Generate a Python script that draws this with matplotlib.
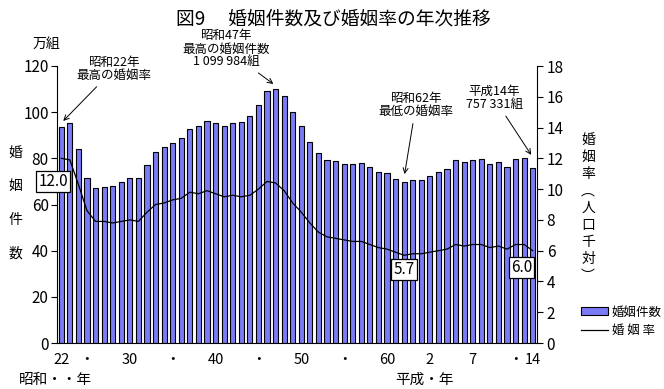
import numpy as np
import matplotlib
matplotlib.use('Agg')
import matplotlib.pyplot as plt
from matplotlib.lines import Line2D
from matplotlib.patches import Patch

plt.rcParams['font.family'] = ['Noto Sans CJK JP', 'DejaVu Sans']

# 昭和22年(1947) - 平成14年(2002)
years = list(range(1947, 2003))

# 婚姻件数 (万組)
marriages = [93.4, 95.4, 84.2, 71.5, 67.2, 67.7, 68.2, 69.8, 71.5, 71.6,
             77.3, 82.7, 84.7, 86.6, 89.0, 92.8, 93.8, 96.3, 95.5, 94.0,
             95.3, 95.6, 98.4, 102.9, 109.1, 110.0, 107.2, 100.0, 94.2, 87.2,
             82.1, 79.3, 78.9, 77.5, 77.7, 78.1, 76.3, 74.0, 73.6, 71.1,
             69.6, 70.8, 70.8, 72.2, 74.2, 75.4, 79.3, 78.3, 79.2, 79.5,
             77.6, 78.5, 76.2, 79.8, 80.0, 75.7]

# 婚姻率 (人口千対)
rates = [12.0, 11.9, 10.3, 8.6, 7.9, 7.9, 7.8, 7.9, 8.0, 7.9,
         8.5, 9.0, 9.1, 9.3, 9.4, 9.8, 9.7, 9.9, 9.7, 9.5,
         9.6, 9.5, 9.6, 10.0, 10.5, 10.4, 9.9, 9.1, 8.5, 7.8,
         7.2, 6.9, 6.8, 6.7, 6.6, 6.6, 6.4, 6.2, 6.1, 5.9,
         5.7, 5.8, 5.8, 5.9, 6.0, 6.1, 6.4, 6.3, 6.4, 6.4,
         6.2, 6.3, 6.1, 6.4, 6.4, 6.0]

tick_years = [1947, 1950, 1955, 1960, 1965, 1970, 1975, 1980, 1985, 1990, 1995, 2000, 2002]
tick_labels = ['22', '・', '30', '・', '40', '・', '50', '・', '60', '2', '7', '・', '14']

W, H = 664, 389
fig = plt.figure(figsize=(W / 100, H / 100), dpi=100)
ax = fig.add_axes([57 / W, (H - 343) / H, 480 / W, 277 / H])
ax2 = ax.twinx()

x = np.array(years) - 1947
bars = ax.bar(x, marriages, width=0.6, color='#7b7bf7', edgecolor='black', linewidth=0.8)
line, = ax2.plot(x, rates, color='black', linewidth=0.9)

ax.set_xlim(-0.5, 55.5)
ax.set_ylim(0, 120)
ax2.set_ylim(0, 18)
ax.set_yticks(range(0, 121, 20))
ax2.set_yticks(range(0, 19, 2))
ax.set_xticks([y - 1947 for y in tick_years])
ax.set_xticklabels(tick_labels)

for s in ['top', 'right']:
    ax.spines[s].set_visible(False)
for s in ['top', 'left', 'bottom']:
    ax2.spines[s].set_visible(False)
ax.tick_params(axis='y', direction='out', length=4, labelsize=11, pad=2)
ax2.tick_params(axis='y', direction='out', length=4, labelsize=11, pad=3)
ax.tick_params(axis='x', length=0, labelsize=10.5, pad=7)

# title and axis labels
fig.text(333 / W, 1 - 19 / H, '図9　 婚姻件数及び婚姻率の年次推移', ha='center', va='center', fontsize=13.5)
fig.text(46 / W, 1 - 44 / H, '万組', ha='center', va='center', fontsize=10)
fig.text(15 / W, 1 - 203 / H, '婚\n\n姻\n\n件\n\n数', ha='center', va='center', fontsize=10, linespacing=1.25)
fig.text(588 / W, 1 - 208 / H, '婚\n姻\n率\n︵\n人\n口\n千\n対\n︶', ha='center', va='center', fontsize=10, linespacing=1.28)
fig.text(55 / W, 1 - 380 / H, '昭和・・年', ha='center', va='center', fontsize=10.5)
fig.text(425 / W, 1 - 380 / H, '平成・年', ha='center', va='center', fontsize=10.5)

# value boxes
box = dict(boxstyle='square,pad=0.15', facecolor='white', edgecolor='black', linewidth=0.9)
for xi, yi, s in [(-0.97, 10.5, '12.0'), (40.0, 4.77, '5.7'), (53.7, 4.9, '6.0')]:
    ax2.text(xi, yi, s, ha='center', va='center', fontsize=11, bbox=box, clip_on=False)

# annotations
arrow = dict(arrowstyle='->', color='black', linewidth=0.7)
ax2.annotate('昭和22年\n最高の婚姻率', xy=(0, 14.3), xytext=(114, H - 69), textcoords='figure pixels',
             ha='center', va='center', fontsize=9, linespacing=1.0, arrowprops=arrow)
ax.annotate('昭和47年\n最高の婚姻件数\n1 099 984組', xy=(25, 111.5), xytext=(226, H - 49), textcoords='figure pixels',
            ha='center', va='center', fontsize=9, linespacing=1.0, arrowprops=arrow)
ax2.annotate('昭和62年\n最低の婚姻率', xy=(40, 10.8), xytext=(416, H - 105), textcoords='figure pixels',
             ha='center', va='center', fontsize=9, linespacing=1.0, arrowprops=arrow)
ax.annotate('平成14年\n757 331組', xy=(55, 80.5), xytext=(494, H - 98), textcoords='figure pixels',
            ha='center', va='center', fontsize=9, linespacing=1.0, arrowprops=arrow)

handles = [Patch(facecolor='#7b7bf7', edgecolor='black', linewidth=0.8),
           Line2D([0], [0], color='black', linewidth=0.9)]
fig.legend(handles, ['婚姻件数', '婚 姻 率'], loc='upper left', bbox_to_anchor=(572 / W, 1 - 297 / H),
           frameon=False, fontsize=9, handlelength=2.2, handleheight=0.6, handletextpad=0.3,
           labelspacing=0.4, borderpad=0.2)

plt.savefig('out.png', dpi=100)
